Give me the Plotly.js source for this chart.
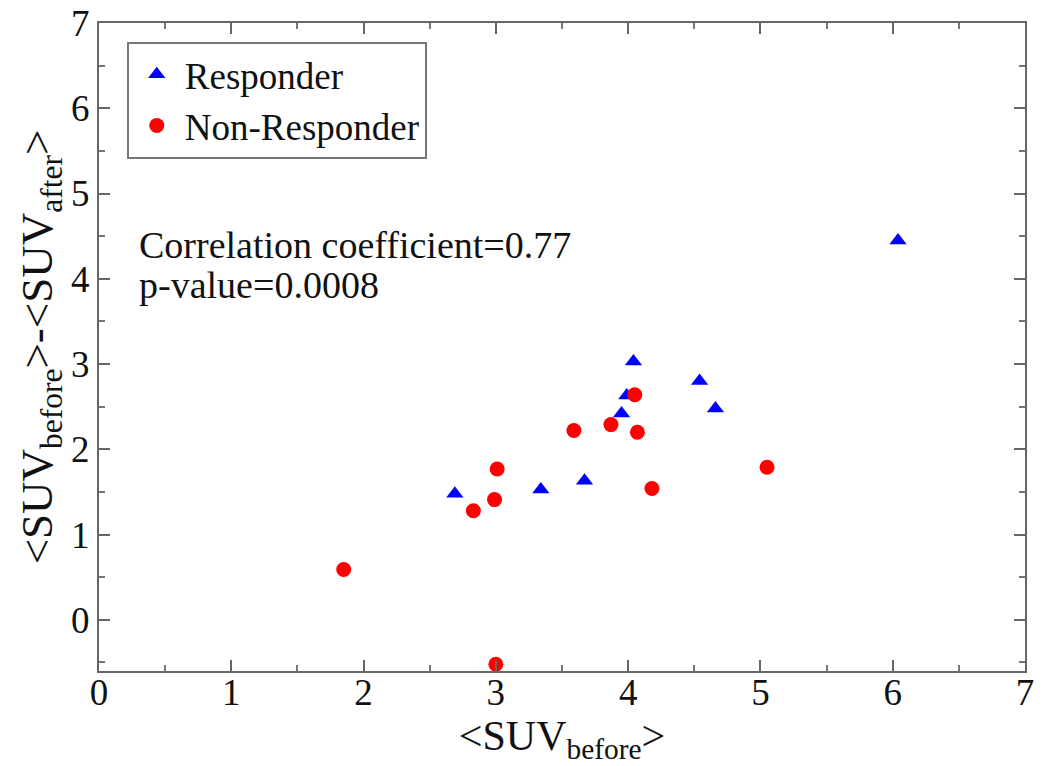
<!DOCTYPE html>
<html>
<head>
<meta charset="utf-8">
<script src="https://cdn.plot.ly/plotly-3.0.1.min.js"></script>
<style>html,body{margin:0;padding:0;background:#fff;}#chart{width:1042px;height:766px;}</style>
</head>
<body>
<div id="chart"></div>
<script>
// Responder (blue triangles)
const respX = [2.69, 3.34, 3.67, 3.95, 3.99, 4.04, 4.54, 4.66, 6.04];
const respY = [1.48, 1.53, 1.63, 2.42, 2.63, 3.03, 2.80, 2.48, 4.45];
// Non-Responder (red circles)
const nonX = [1.85, 2.83, 2.99, 3.01, 3.00, 3.59, 3.87, 4.05, 4.07, 4.18, 5.05];
const nonY = [0.59, 1.28, 1.41, 1.77, -0.52, 2.22, 2.29, 2.64, 2.20, 1.54, 1.79];
const seriesNames = ["Responder", "Non-Responder"];
const noteLines = ["Correlation coefficient=0.77", "p-value=0.0008"];
const xTitle = "&lt;SUV<sub>before</sub>&gt;";
const yTitle = "&lt;SUV<sub>before</sub>&gt;-&lt;SUV<sub>after</sub>&gt;";

const serif = "Liberation Serif, Times New Roman, serif";
const axisCommon = {
  showline: true, linecolor: "#666", linewidth: 2, mirror: "allticks",
  ticks: "inside", ticklen: 11, tickwidth: 2, tickcolor: "#666",
  showgrid: false, zeroline: false, dtick: 1,
  tickfont: {family: serif, size: 37, color: "#111"},
  minor: {dtick: 0.5, ticks: "inside", ticklen: 6, tickwidth: 2, tickcolor: "#777", showgrid: false}
};

const traces = [
  {x: respX, y: respY, mode: "markers", type: "scatter", name: seriesNames[0],
   marker: {symbol: "triangle-up", size: 15, color: "#0000ff"}},
  {x: nonX, y: nonY, mode: "markers", type: "scatter", name: seriesNames[1],
   marker: {symbol: "circle", size: 15, color: "#ff0000"}}
];

const layout = {
  width: 1042, height: 766,
  margin: {l: 99, r: 17, t: 23, b: 95},
  paper_bgcolor: "#fff", plot_bgcolor: "#fff",
  showlegend: true,
  legend: {x: 0.03, y: 0.971, xanchor: "left", yanchor: "top",
    bordercolor: "#777", borderwidth: 2, bgcolor: "#fff", itemwidth: 46,
    font: {family: serif, size: 37, color: "#111"}, tracegroupgap: 0},
  xaxis: Object.assign({}, axisCommon, {range: [0, 7], ticklabelstandoff: -12,
    title: {text: xTitle, font: {family: serif, size: 42, color: "#111"}, standoff: 0}}),
  yaxis: Object.assign({}, axisCommon, {range: [-0.6, 7],
    title: {text: yTitle, font: {family: serif, size: 45, color: "#111"}, standoff: 4}}),
  annotations: [
    {xref: "paper", yref: "paper", x: 0.041, y: 0.657, xanchor: "left", yanchor: "middle",
     showarrow: false, text: noteLines[0], font: {family: serif, size: 38, color: "#111"}},
    {xref: "paper", yref: "paper", x: 0.041, y: 0.596, xanchor: "left", yanchor: "middle",
     showarrow: false, text: noteLines[1], font: {family: serif, size: 38, color: "#111"}}
  ]
};

Plotly.newPlot("chart", traces, layout, {displayModeBar: false, staticPlot: true});
</script>
</body>
</html>
